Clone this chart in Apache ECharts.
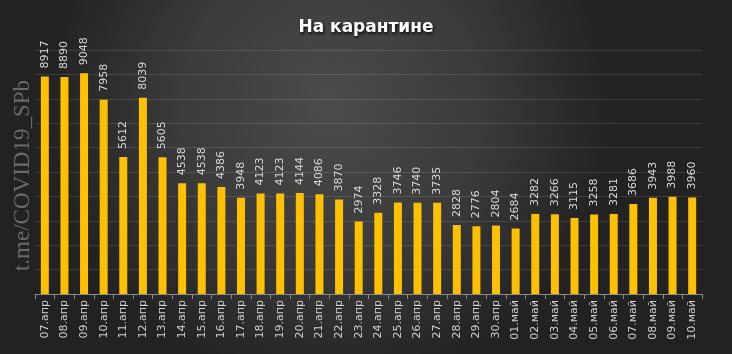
<!DOCTYPE html>
<html>
<head>
<meta charset="utf-8">
<script src="https://cdn.jsdelivr.net/npm/echarts@6/dist/echarts.min.js"></script>
<style>
  html, body { margin: 0; padding: 0; }
  #main { width: 732px; height: 354px; }
</style>
</head>
<body>
<div id="main"></div>
<script>
    // даты и значения
    var days = ['07.апр','08.апр','09.апр','10.апр','11.апр','12.апр','13.апр','14.апр','15.апр','16.апр',
        '17.апр','18.апр','19.апр','20.апр','21.апр','22.апр','23.апр','24.апр','25.апр','26.апр',
        '27.апр','28.апр','29.апр','30.апр','01.май','02.май','03.май','04.май','05.май','06.май',
        '07.май','08.май','09.май','10.май'];
    var quarantine = [8917, 8890, 9048, 7958, 5612, 8039, 5605, 4538, 4538, 4386,
        3948, 4123, 4123, 4144, 4086, 3870, 2974, 3328, 3746, 3740,
        3735, 2828, 2776, 2804, 2684, 3282, 3266, 3115, 3258, 3281,
        3686, 3943, 3988, 3960];

    var myChart = echarts.init(document.getElementById('main'));
    var option = {
        backgroundColor: {
            type: 'radial', x: 0.45, y: 0.3, r: 0.8,
            colorStops: [
                {offset: 0, color: '#4b4b4b'},
                {offset: 0.55, color: '#3a3a3a'},
                {offset: 1, color: '#222222'}
            ]
        },
        title: {
            text: 'На карантине',
            left: 'center',
            top: 14,
            textStyle: {
                color: '#ffffff',
                fontSize: 17,
                fontWeight: 'bold',
                fontFamily: 'DejaVu Sans',
                textShadowColor: 'rgba(0,0,0,0.8)',
                textShadowBlur: 3,
                textShadowOffsetX: 1,
                textShadowOffsetY: 2
            }
        },
        // водяной знак слева
        graphic: [{
            type: 'text',
            left: 11,
            top: 80,
            rotation: Math.PI / 2,
            style: {
                text: 't.me/COVID19_SPb',
                fill: '#6a6a6a',
                font: '23px "Liberation Serif"'
            }
        }],
        grid: {left: 35, right: 30, top: 50, bottom: 60},
        xAxis: {
            type: 'category',
            data: days,
            axisLine: {lineStyle: {color: '#8a8a8a'}},
            axisTick: {show: true, length: 5, lineStyle: {color: '#8a8a8a'}},
            axisLabel: {
                rotate: 90,
                color: '#d0d0d0',
                fontSize: 11,
                fontFamily: 'DejaVu Sans',
                margin: 6,
                interval: 0
            }
        },
        yAxis: {
            type: 'value',
            min: 0,
            max: 10000,
            interval: 1000,
            axisLine: {show: false},
            axisTick: {show: false},
            axisLabel: {show: false},
            splitLine: {lineStyle: {color: 'rgba(255,255,255,0.12)'}}
        },
        series: [{
            type: 'bar',
            data: quarantine,
            barWidth: 8,
            itemStyle: {color: '#ffc000'},
            label: {
                show: true,
                position: 'top',
                rotate: 90,
                align: 'left',
                verticalAlign: 'middle',
                distance: 8,
                color: '#d8d8d8',
                fontSize: 11,
                fontFamily: 'DejaVu Sans'
            }
        }]
    };
    myChart.setOption(option);
</script>
</body>
</html>
